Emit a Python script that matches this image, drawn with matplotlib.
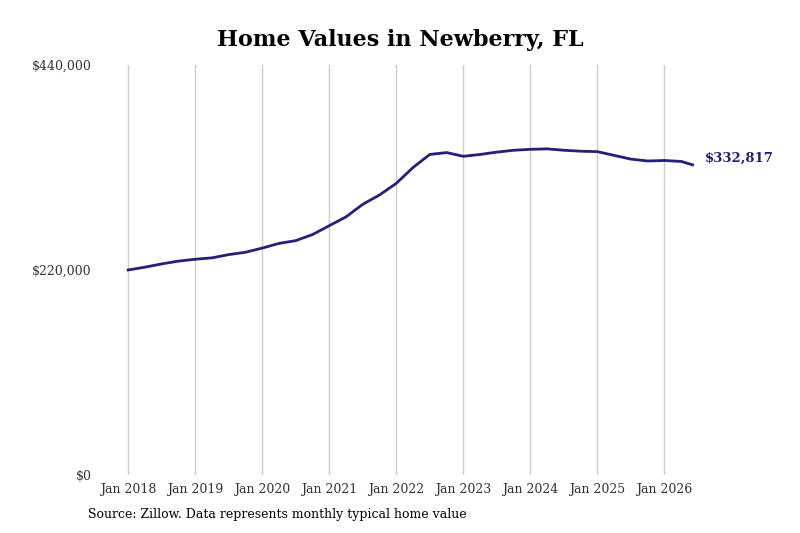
import matplotlib.pyplot as plt

# quarterly readings of typical home value, Newberry FL
dates = [2018.0, 2018.25, 2018.5, 2018.75, 2019.0, 2019.25, 2019.5, 2019.75,
         2020.0, 2020.25, 2020.5, 2020.75, 2021.0, 2021.25, 2021.5, 2021.75,
         2022.0, 2022.25, 2022.5, 2022.75, 2023.0, 2023.25, 2023.5, 2023.75,
         2024.0, 2024.25, 2024.5, 2024.75, 2025.0, 2025.25, 2025.5, 2025.75,
         2026.0, 2026.25, 2026.42]
values = [220000, 223000, 226500, 229500, 231500, 233000, 236500, 239000,
          243500, 248500, 251500, 258000, 267500, 277000, 290500, 300500,
          313000, 330000, 344000, 346000, 342000, 344000, 346500, 348500,
          349500, 350000, 348500, 347500, 347000, 343000, 339000, 337000,
          337500, 336500, 332817]

year_ticks = list(range(2018, 2027))
year_labels = [f"Jan {y}" for y in year_ticks]

plt.rcParams['font.family'] = ['DejaVu Serif']
fig = plt.figure(figsize=(8, 5.33), dpi=100)
ax = fig.add_axes([0.125, 0.109, 0.76, 0.769])
ax.plot(dates, values, color='#241f78', lw=2)
ax.set_xlim(2017.58, 2026.65)
ax.set_ylim(0, 440000)
ax.set_xticks(year_ticks)
ax.set_xticklabels(year_labels, fontsize=9, color='#333333')
ax.set_yticks([0, 220000, 440000])
ax.set_yticklabels(['$0', '$220,000', '$440,000'], fontsize=9, color='#333333')
ax.grid(axis='x', color='#cccccc', lw=1)
ax.tick_params(length=0, pad=6)
for s in ax.spines.values():
    s.set_visible(False)
ax.text(dates[-1] + 0.18, values[-1], f"${values[-1]:,}", color='#241f78',
        fontsize=9.5, fontweight='bold', va='bottom')
fig.suptitle("Home Values in Newberry, FL", fontsize=16, fontweight='bold', y=0.945)
fig.text(0.11, 0.022, "Source: Zillow. Data represents monthly typical home value",
         fontsize=9, va='bottom')
fig.savefig('out.png')
